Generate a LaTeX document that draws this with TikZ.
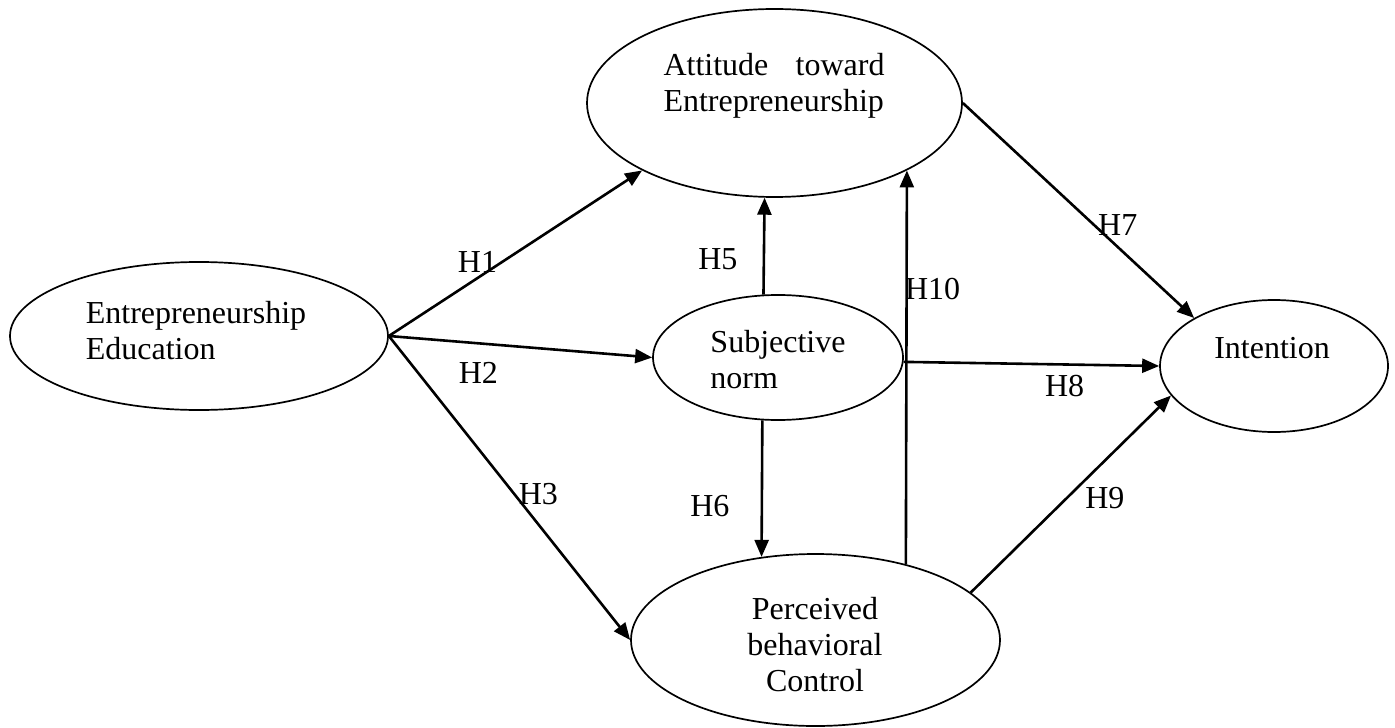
\documentclass[tikz,border=0pt]{standalone}
\usepackage{fontspec}
\setmainfont{Liberation Serif}
\usetikzlibrary{shapes.geometric,arrows.meta}

\begin{document}
\begin{tikzpicture}[x=0.5pt, y=-0.5pt,
    construct/.style={draw, ellipse, line width=0.85pt, inner sep=0pt},
    ctext/.style={inner sep=0pt, font=\fontsize{16}{18}\selectfont},
    hyp/.style={inner sep=0pt, font=\fontsize{16}{18}\selectfont},
    link/.style={-{Triangle[length=8.5pt,width=7pt]}, line width=1.3pt}]
    \useasboundingbox (0,0) rectangle (1395,727);
    \node[construct, minimum width=189pt, minimum height=74pt] (edu) at (199, 336) {};
    \node[construct, minimum width=187.5pt, minimum height=94pt] (att) at (774.5, 103) {};
    \node[construct, minimum width=125pt, minimum height=62.5pt] (sub) at (778, 357.5) {};
    \node[construct, minimum width=114pt, minimum height=66pt] (int) at (1274, 366) {};
    \node[construct, minimum width=184.5pt, minimum height=86pt] (pbc) at (815.5, 640) {};
    \node[ctext, align=left] (edutxt) at (196, 331) {Entrepreneurship\\Education};
    \node[ctext, align=left, text width=110.5pt] (atttxt) at (774, 86) {Attitude\hfill toward\\Entrepreneurship};
    \node[ctext, align=left] (subtxt) at (778, 360) {Subjective\\norm};
    \node[ctext] (inttxt) at (1272, 348) {Intention};
    \node[ctext, align=center] (pbctxt) at (815, 645) {Perceived\\behavioral\\Control};
    \draw [link] (edu.east) to node[hyp, pos=.35, yshift=8pt] (h1) {H1} (att.207);
    \draw [link] (edu.east) to node[hyp, pos=.34, yshift=-15pt] (h2) {H2} (sub.west);
    \draw [link] (edu.east) to node[hyp, pos=.52, xshift=12pt] (h3) {H3} (pbc.west);
    \draw [link] (sub.103) to node[hyp, pos=.37, xshift=-23pt] (h5) {H5} (att.264);
    \draw [link] (sub.256) to node[hyp, pos=.63, xshift=-26pt] (h6) {H6} (pbc.123);
    \draw [link] (att.east) to node[hyp, pos=.67, yshift=11pt] (h7) {H7} (int.149);
    \draw [link] (sub.-2) to node[hyp, pos=.63, yshift=-11pt] (h8) {H8} (int.west);
    \draw [link] (pbc.17) to node[hyp, pos=.48, xshift=19pt] (h9) {H9} (int.196);
    \draw [link] (pbc.40) to node[hyp, pos=.70, xshift=13pt] (h10) {H10} (att.333);
\end{tikzpicture}
\end{document}
